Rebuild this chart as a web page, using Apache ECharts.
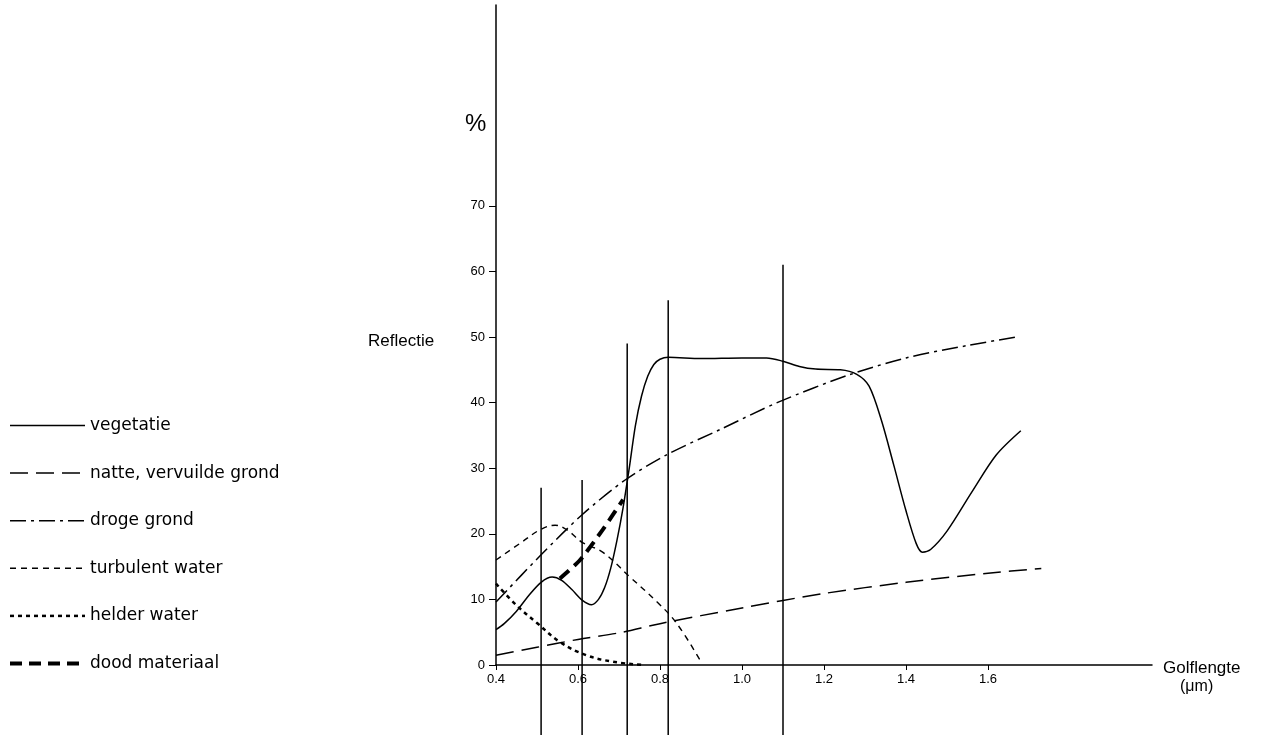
<!DOCTYPE html>
<html>
<head>
<meta charset="utf-8">
<script src="https://cdn.jsdelivr.net/npm/echarts@6/dist/echarts.min.js"></script>
<style>
html, body { margin: 0; padding: 0; background: #fff; }
#chart { width: 1268px; height: 735px; }
</style>
</head>
<body>
<div id="chart"></div>
<script>
// golflengte (um) / reflectie (%)
var vegetatie = [[0.4,5.4],[0.42,6.3],[0.45,8.2],[0.48,10.6],[0.51,12.6],[0.537,13.4],[0.56,12.9],[0.585,11.5],
  [0.61,9.9],[0.633,9.2],[0.65,10],[0.665,11.8],[0.68,14.8],[0.695,19],[0.71,24],[0.725,30],[0.74,36.5],
  [0.755,41],[0.77,44],[0.785,45.8],[0.8,46.6],[0.82,46.9],[0.9,46.7],[1.0,46.8],[1.06,46.8],[1.1,46.3],
  [1.14,45.5],[1.18,45.1],[1.24,45],[1.28,44.3],[1.31,42.5],[1.34,37.3],[1.37,30.5],[1.4,23.5],[1.425,18.5],
  [1.44,17.2],[1.46,17.6],[1.5,20.4],[1.56,26.3],[1.62,32],[1.68,35.7]];
var natteGrond = [[0.4,1.5],[0.5,2.7],[0.6,3.9],[0.7,4.9],[0.8,6.3],[1.0,8.7],[1.2,10.9],[1.4,12.6],[1.6,14.0],[1.73,14.7]];
var drogeGrond = [[0.4,9.6],[0.51,16.8],[0.61,22.9],[0.715,28.2],[0.815,32],[0.95,36],[1.09,40.1],[1.26,44.2],[1.4,46.8],[1.55,48.7],[1.67,50]];
var turbulentWater = [[0.4,16],[0.46,18.6],[0.51,20.7],[0.544,21.3],[0.573,20.6],[0.61,18.7],[0.66,17.2],[0.727,13.4],[0.793,9.6],[0.84,6.4],[0.9,0.5]];
var helderWater = [[0.4,12.4],[0.45,9.1],[0.5,6.4],[0.556,3.5],[0.62,1.5],[0.685,0.5],[0.76,0]];
var doodMateriaal = [[0.556,13.2],[0.605,16],[0.66,20.6],[0.71,25.2]];
// banden: positie en bovenkant van de verticale lijnen
var bandX = [0.51, 0.61, 0.72, 0.82, 1.10];
var bandTop = [27, 28.2, 49, 55.6, 61];
var bandBottom = -10.7;
var xTicks = [0.4, 0.6, 0.8, 1.0, 1.2, 1.4, 1.6];
var yTicks = [0, 10, 20, 30, 40, 50, 60, 70];

var chart = echarts.init(document.getElementById('chart'));
var font = 'Liberation Sans, Arial, sans-serif';

// naam, data, lijnsoort, dikte, smooth
var styles = [
  ['vegetatie', vegetatie, 'solid', 1.5, 0.3],
  ['natte, vervuilde grond', natteGrond, [18, 8], 1.5, 0.3],
  ['droge grond', drogeGrond, [16, 5, 3, 5], 1.5, 0.3],
  ['turbulent water', turbulentWater, [6, 5], 1.4, 0.4],
  ['helder water', helderWater, [4, 4], 2.5, 0.4],
  ['dood materiaal', doodMateriaal, [12, 7], 4, 0.2]
];

var series = [];
var legendData = [];
styles.forEach(function (s) {
  var ls = { color: '#000', width: s[3], type: s[2] };
  series.push({
    name: s[0], type: 'line', data: s[1], symbol: 'none', smooth: s[4],
    lineStyle: ls, itemStyle: { color: '#000' }
  });
  legendData.push({ name: s[0], lineStyle: ls, itemStyle: { opacity: 0 } });
});
bandX.forEach(function (x, i) {
  series.push({
    type: 'line', symbol: 'none', clip: false, silent: true,
    data: [[x, bandBottom], [x, bandTop[i]]],
    lineStyle: { color: '#000', width: 1.5 }
  });
});

chart.setOption({
  animation: false,
  backgroundColor: '#fff',
  textStyle: { fontFamily: font, color: '#000' },
  grid: { left: 496, right: 116, top: 5, bottom: 70 },
  legend: {
    orient: 'vertical', left: 3, top: 412,
    itemWidth: 75, itemHeight: 16, itemGap: 30.6,
    itemStyle: { opacity: 0 },
    data: legendData,
    textStyle: { fontSize: 17, color: '#000', fontFamily: 'DejaVu Sans, sans-serif' }
  },
  xAxis: {
    type: 'value', min: 0.4, max: 2.0,
    axisLine: { lineStyle: { color: '#000', width: 1.5 } },
    axisTick: { customValues: xTicks, length: 5, lineStyle: { color: '#000' } },
    axisLabel: { customValues: xTicks, color: '#000', fontSize: 13, margin: 8,
      formatter: function (v) { return v.toFixed(1); } },
    splitLine: { show: false }
  },
  yAxis: {
    type: 'value', min: 0, max: 100.6,
    axisLine: { show: true, lineStyle: { color: '#000', width: 1.5 } },
    axisTick: { show: true, customValues: yTicks, length: 7, lineStyle: { color: '#000' } },
    axisLabel: { customValues: yTicks, color: '#000', fontSize: 13, margin: 11 },
    splitLine: { show: false }
  },
  graphic: [
    { type: 'text', left: 465, top: 112, style: { text: '%', font: '24px ' + font, fill: '#000' } },
    { type: 'text', left: 368, top: 333, style: { text: 'Reflectie', font: '17px ' + font, fill: '#000' } },
    { type: 'text', left: 1163, top: 660, style: { text: 'Golflengte', font: '17px ' + font, fill: '#000' } },
    { type: 'text', left: 1180, top: 679, style: { text: '(\u03bcm)', font: '16px ' + font, fill: '#000' } }
  ],
  series: series
});
</script>
</body>
</html>
